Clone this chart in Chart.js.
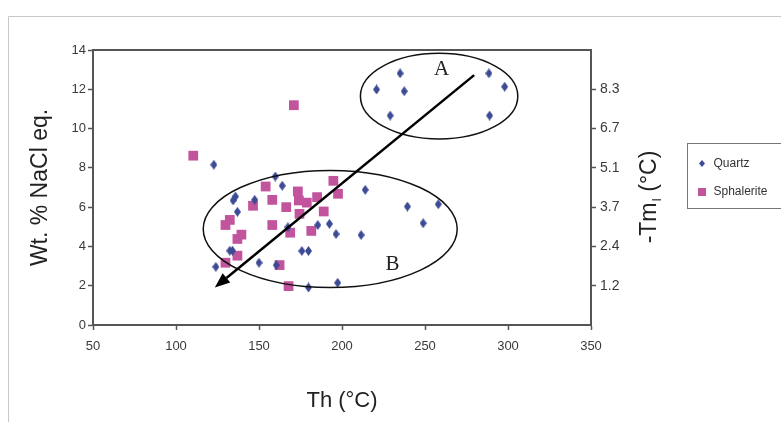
<!DOCTYPE html>
<html>
<head>
<meta charset="utf-8">
<script src="https://cdn.jsdelivr.net/npm/chart.js@4"></script>
<style>
  body { margin: 0; background: #fff; }
  #wrap { width: 781px; height: 422px; }
</style>
</head>
<body>
<div id="wrap"><canvas id="grafico" width="781" height="422"></canvas></div>
<script>
// homogenisation temperature (Th) vs salinity
const quartzTh = [122.8, 159.8, 164, 135.8, 134.4, 147.4, 137, 185.4, 192.4, 196.4, 167.4, 132.4, 134,
  175.8, 179.8, 124, 150, 160.4, 179.8, 197.4, 211.5, 214, 239.4, 258, 248.9,
  235, 220.8, 237.5, 229, 288.5, 298, 288.9]
const quartzWt = [8.16, 7.56, 7.09, 6.54, 6.34, 6.37, 5.76, 5.09, 5.15, 4.63, 4.98, 3.78, 3.78,
  3.77, 3.77, 2.96, 3.17, 3.05, 1.91, 2.15, 4.58, 6.88, 6.03, 6.15, 5.18,
  12.81, 11.99, 11.9, 10.66, 12.81, 12.13, 10.66]
const sphalTh = [110.4, 171, 154, 158, 146.4, 166.4, 173.4, 174, 178.8, 185, 174.4, 189, 194.8, 197.6,
  132.4, 129.8, 158, 139.4, 137, 168.8, 181.5, 137, 129.8, 162.4, 167.8]
const sphalWt = [8.62, 11.19, 7.05, 6.37, 6.07, 6.0, 6.8, 6.34, 6.23, 6.51, 5.66, 5.78, 7.34, 6.68,
  5.35, 5.09, 5.09, 4.6, 4.38, 4.7, 4.79, 3.53, 3.17, 3.05, 1.98]

const xTicks = [50, 100, 150, 200, 250, 300, 350]
const yTicks = [0, 2, 4, 6, 8, 10, 12, 14]
const rightTickLabels = ['', '1.2', '2.4', '3.7', '5.1', '6.7', '8.3', '']

// annotations (data units)
const ellipseA = { th: 258.5, wt: 11.65, rth: 47.4, rwt: 2.18 }
const ellipseB = { th: 192.9, wt: 4.89, rth: 76.5, rwt: 2.98 }
const arrowFrom = { th: 279.6, wt: 12.72 }
const arrowTo = { th: 123.4, wt: 1.91 }
const letters = [{ t: 'A', th: 260, wt: 13.0 }, { t: 'B', th: 230.4, wt: 3.1 }]

const blue = '#3d4a94'
const pink = '#c2549e'

function makeDiamond(w, h, color) {
  const c = document.createElement('canvas')
  c.width = w; c.height = h
  const g = c.getContext('2d')
  g.fillStyle = color
  g.beginPath()
  g.moveTo(w / 2, 0); g.lineTo(w, h / 2); g.lineTo(w / 2, h); g.lineTo(0, h / 2)
  g.closePath(); g.fill()
  return c
}
const diamond = makeDiamond(7, 10, blue)

const pts = (xs, ys) => xs.map((x, i) => ({ x: x, y: ys[i] }))
const FONT = "'Liberation Sans', Arial, sans-serif"

const extras = {
  id: 'extras',
  beforeDraw(chart) {
    const c = chart.ctx
    c.save()
    c.fillStyle = '#fff'
    c.fillRect(0, 0, chart.width, chart.height)
    c.strokeStyle = '#c8c8c8'
    c.lineWidth = 1
    c.beginPath()
    c.moveTo(8.5, chart.height); c.lineTo(8.5, 16.5); c.lineTo(chart.width, 16.5)
    c.stroke()
    c.restore()
  },
  afterDraw(chart) {
    const c = chart.ctx
    const xs = chart.scales.x, ys = chart.scales.y
    const a = chart.chartArea
    c.save()
    // top frame line
    c.strokeStyle = '#555'
    c.lineWidth = 2
    c.beginPath(); c.moveTo(a.left, a.top); c.lineTo(a.right, a.top); c.stroke()

    // ellipses
    c.strokeStyle = '#111'
    c.lineWidth = 1.5
    ;[ellipseA, ellipseB].forEach(e => {
      const cx = xs.getPixelForValue(e.th), cy = ys.getPixelForValue(e.wt)
      const rx = xs.getPixelForValue(e.th + e.rth) - cx
      const ry = cy - ys.getPixelForValue(e.wt + e.rwt)
      c.beginPath(); c.ellipse(cx, cy, rx, ry, 0, 0, Math.PI * 2); c.stroke()
    })

    // arrow
    const x1 = xs.getPixelForValue(arrowFrom.th), y1 = ys.getPixelForValue(arrowFrom.wt)
    const x2 = xs.getPixelForValue(arrowTo.th), y2 = ys.getPixelForValue(arrowTo.wt)
    const ang = Math.atan2(y2 - y1, x2 - x1)
    const hl = 15, hw = 6
    const bx = x2 - hl * Math.cos(ang), by = y2 - hl * Math.sin(ang)
    c.strokeStyle = '#000'
    c.lineWidth = 2.5
    c.beginPath(); c.moveTo(x1, y1); c.lineTo(bx, by); c.stroke()
    c.fillStyle = '#000'
    c.beginPath()
    c.moveTo(x2, y2)
    c.lineTo(bx + hw * Math.sin(ang), by - hw * Math.cos(ang))
    c.lineTo(bx - hw * Math.sin(ang), by + hw * Math.cos(ang))
    c.closePath(); c.fill()

    // letters
    c.font = "21px 'Liberation Serif', 'Times New Roman', serif"
    c.textAlign = 'center'
    c.textBaseline = 'middle'
    c.fillStyle = '#222'
    letters.forEach(l => c.fillText(l.t, xs.getPixelForValue(l.th), ys.getPixelForValue(l.wt)))

    // right axis title  -Tm_I (°C)
    c.translate(650, 197)
    c.rotate(-Math.PI / 2)
    c.textBaseline = 'middle'
    c.textAlign = 'left'
    const big = '23px ' + FONT, small = '12px ' + FONT
    c.font = big
    const w1 = c.measureText('-Tm').width
    const w3 = c.measureText(' (°C)').width
    c.font = small
    const w2 = c.measureText('I').width + 1
    let sx = -(w1 + w2 + w3) / 2
    c.fillStyle = '#222'
    c.font = big; c.fillText('-Tm', sx, 0)
    c.font = small; c.fillText('I', sx + w1 + 1, 8)
    c.font = big; c.fillText(' (°C)', sx + w1 + w2, 0)
    c.setTransform(1, 0, 0, 1, 0, 0)

    // legend
    const lx = a.right + 96.5, ly = a.top + 93.5
    c.strokeStyle = '#777'
    c.lineWidth = 1
    c.strokeRect(lx, ly, 120, 65)
    c.font = '12px ' + FONT
    c.fillStyle = '#333'
    c.textAlign = 'left'
    c.textBaseline = 'middle'
    chart.data.datasets.forEach((ds, i) => {
      const yy = ly + 20 + i * 28.5
      if (i === 0) {
        c.drawImage(makeDiamond(6, 7, blue), lx + 11.5, yy - 3.5)
      } else {
        c.fillStyle = pink
        c.fillRect(lx + 10.5, yy - 4, 8, 8)
      }
      c.fillStyle = '#333'
      c.fillText(ds.label, lx + 26, yy)
    })
    c.restore()
  }
}

new Chart(document.getElementById('grafico'), {
  type: 'scatter',
  data: {
    datasets: [{
      label: 'Quartz',
      data: pts(quartzTh, quartzWt),
      pointStyle: diamond,
      backgroundColor: blue,
      borderWidth: 0
    }, {
      label: 'Sphalerite',
      data: pts(sphalTh, sphalWt),
      pointStyle: 'rect',
      pointRadius: 6.9,
      backgroundColor: pink,
      borderColor: pink,
      borderWidth: 0
    }]
  },
  options: {
    responsive: false,
    animation: false,
    layout: { padding: { top: 50, left: 0, right: 0, bottom: 0 } },
    plugins: { legend: { display: false }, tooltip: { enabled: false } },
    scales: {
      x: {
        type: 'linear', min: 50, max: 350,
        afterBuildTicks: s => { s.ticks = xTicks.map(v => ({ value: v })) },
        afterFit: s => { s.height = 97 },
        grid: { drawOnChartArea: false, tickLength: 5, tickColor: '#555', tickWidth: 1.5 },
        border: { color: '#555', width: 2 },
        ticks: { padding: 9, color: '#3a3a3a', font: { family: FONT, size: 13 }, maxRotation: 0 },
        title: { display: true, text: 'Th (°C)', color: '#222', font: { family: FONT, size: 22 }, padding: { bottom: 8 } }
      },
      y: {
        type: 'linear', position: 'left', min: 0, max: 14,
        afterBuildTicks: s => { s.ticks = yTicks.map(v => ({ value: v })) },
        afterFit: s => { s.width = 93 },
        grid: { drawOnChartArea: false, tickLength: 5, tickColor: '#555', tickWidth: 1.5 },
        border: { color: '#555', width: 2 },
        ticks: { padding: 2, color: '#3a3a3a', font: { family: FONT, size: 13 } },
        title: { display: true, text: 'Wt. % NaCl eq.', color: '#222', font: { family: FONT, size: 23 }, padding: { top: 27 } }
      },
      y2: {
        type: 'linear', position: 'right', min: 0, max: 14,
        afterBuildTicks: s => { s.ticks = yTicks.map(v => ({ value: v })) },
        afterFit: s => { s.width = 190 },
        grid: {
          drawOnChartArea: false, tickLength: 5, tickWidth: 1.5,
          tickColor: c => rightTickLabels[c.index] ? '#555' : 'rgba(0,0,0,0)'
        },
        border: { color: '#555', width: 2 },
        ticks: {
          padding: 4, color: '#3a3a3a', font: { family: FONT, size: 14 },
          callback: (v, i) => rightTickLabels[i]
        }
      }
    }
  },
  plugins: [extras]
})
</script>
</body>
</html>
